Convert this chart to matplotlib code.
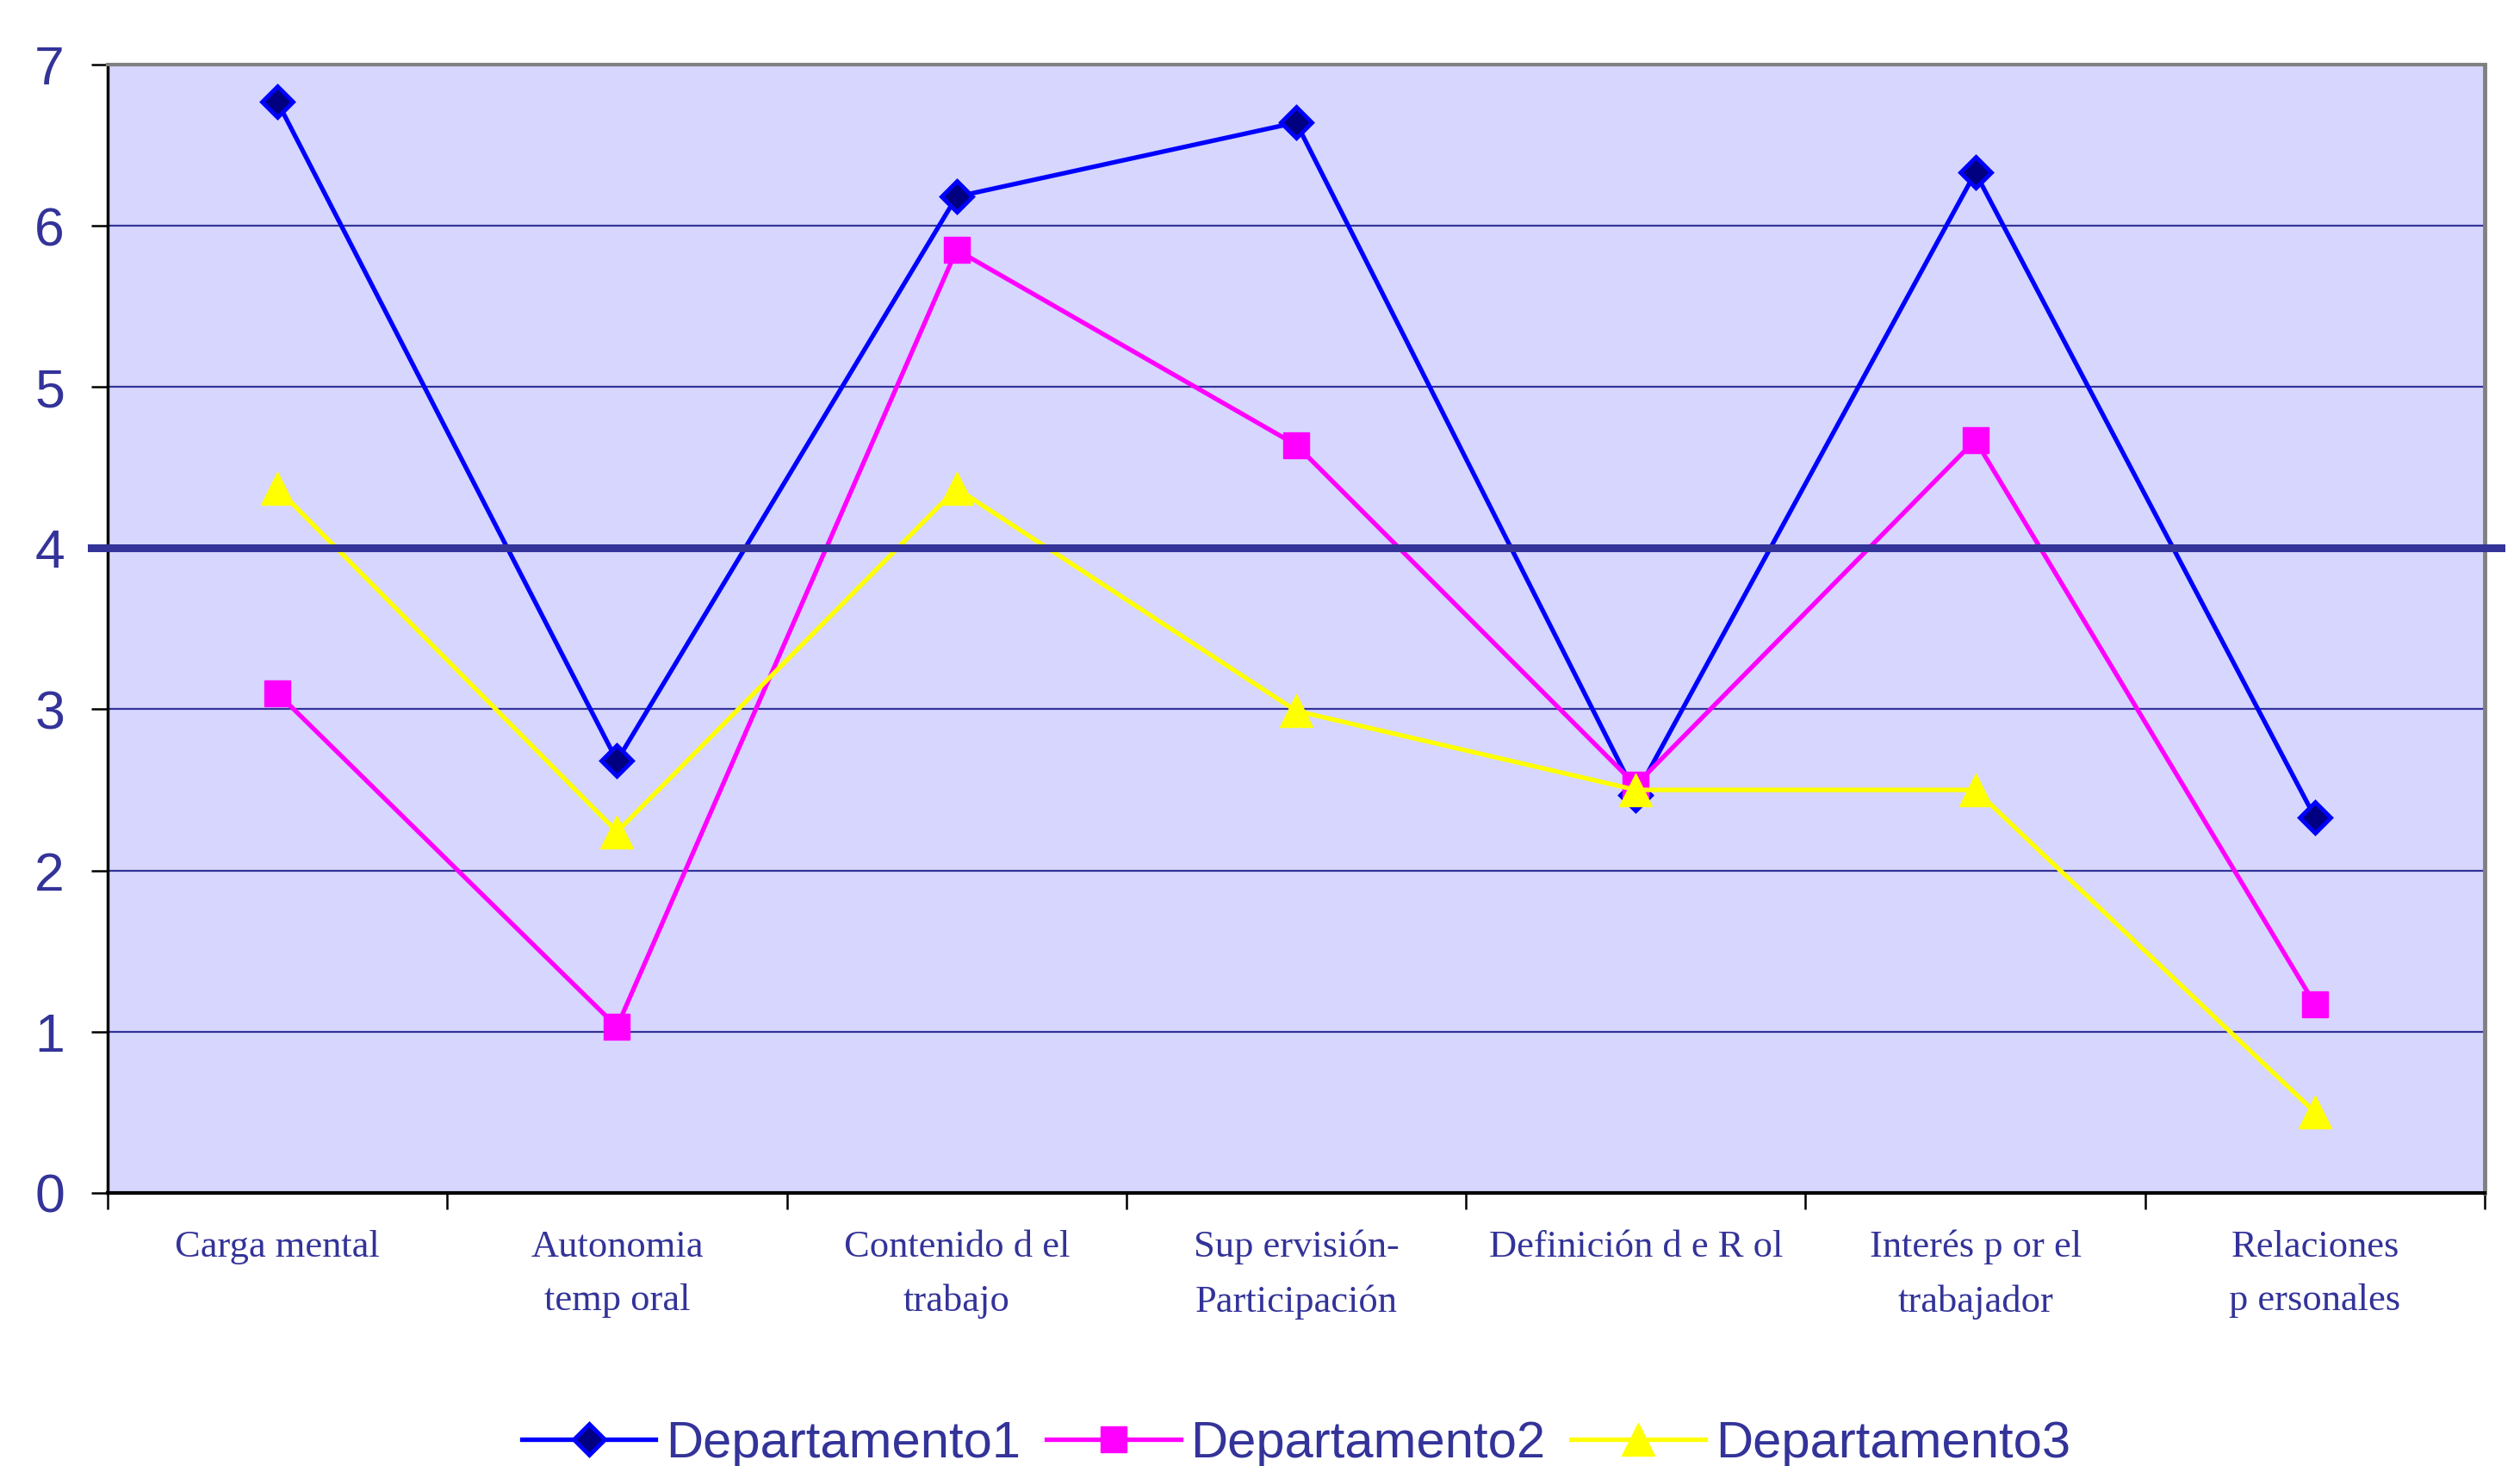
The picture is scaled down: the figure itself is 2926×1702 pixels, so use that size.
import numpy as np
import matplotlib.pyplot as plt

categorias = [
    "Carga mental",
    "Autonomia\ntemp oral",
    "Contenido d el\ntrabajo",
    "Sup ervisión-\nParticipación",
    "Definición d e R ol",
    "Interés p or el\ntrabajador",
    "Relaciones\np ersonales",
]
departamento1 = [6.77, 2.68, 6.18, 6.64, 2.47, 6.33, 2.33]
departamento2 = [3.10, 1.03, 5.85, 4.64, 2.53, 4.67, 1.17]
departamento3 = [4.37, 2.24, 4.37, 2.99, 2.50, 2.50, 0.50]
y_ticks = [0, 1, 2, 3, 4, 5, 6, 7]
umbral = 4

texto = "#333399"

fig = plt.figure(figsize=(29.26, 17.02), dpi=100)
ax = fig.add_axes([0.0427, 0.1863, 0.9433, 0.7697])
ax.set_facecolor("#D6D6FF")

x = np.arange(len(categorias))

# lineas de referencia horizontales
for v in y_ticks[1:-1]:
    if v != umbral:
        ax.axhline(v, color=texto, lw=1.6, zorder=1)

ax.plot(x, departamento1, color="#0000FF", lw=3.8, marker="D", markersize=18,
        markerfacecolor="#000080", markeredgecolor="#0000FF", markeredgewidth=3.5,
        label="Departamento1", zorder=3)
ax.plot(x, departamento2, color="#FF00FF", lw=3.8, marker="s", markersize=22,
        markerfacecolor="#FF00FF", markeredgecolor="#FF00FF",
        label="Departamento2", zorder=4)
ax.plot(x, departamento3, color="#FFFF00", lw=3.8, marker="^", markersize=27,
        markerfacecolor="#FFFF00", markeredgecolor="#FFFF00",
        label="Departamento3", zorder=5)

ax.axhline(umbral, xmin=-0.007, xmax=1.007, color=texto, lw=6.5,
           zorder=6, clip_on=False)

ax.set_xlim(-0.5, len(categorias) - 0.5)
ax.set_ylim(0, 7)
ax.set_yticks(y_ticks)
ax.tick_params(axis="y", length=14, width=1.8, pad=22, labelsize=45,
               labelcolor=texto, color="black")
for lab in ax.get_yticklabels():
    lab.set_fontfamily("Liberation Sans")

ax.set_xticks(x)
ax.set_xticklabels(categorias, fontfamily="Liberation Serif", fontsize=32,
                   color=texto, linespacing=1.72, va="top")
ax.tick_params(axis="x", which="major", length=0, pad=31)
ax.set_xticks(np.arange(-0.5, len(categorias)), minor=True)
ax.tick_params(axis="x", which="minor", length=14, width=1.8, color="black")

ax.spines["left"].set_color("black")
ax.spines["left"].set_linewidth(2.5)
ax.spines["bottom"].set_color("black")
ax.spines["bottom"].set_linewidth(3)
ax.spines["top"].set_color("#808080")
ax.spines["top"].set_linewidth(3)
ax.spines["right"].set_color("#808080")
ax.spines["right"].set_linewidth(3.5)

leg = ax.legend(loc="lower center", bbox_to_anchor=(0.5, -0.262), ncol=3,
                frameon=False, handlelength=2.6, handletextpad=0.2,
                columnspacing=0.5, borderaxespad=0,
                prop={"family": "Liberation Sans", "size": 43})
for t in leg.get_texts():
    t.set_color(texto)

fig.savefig("out.png", dpi=100)
